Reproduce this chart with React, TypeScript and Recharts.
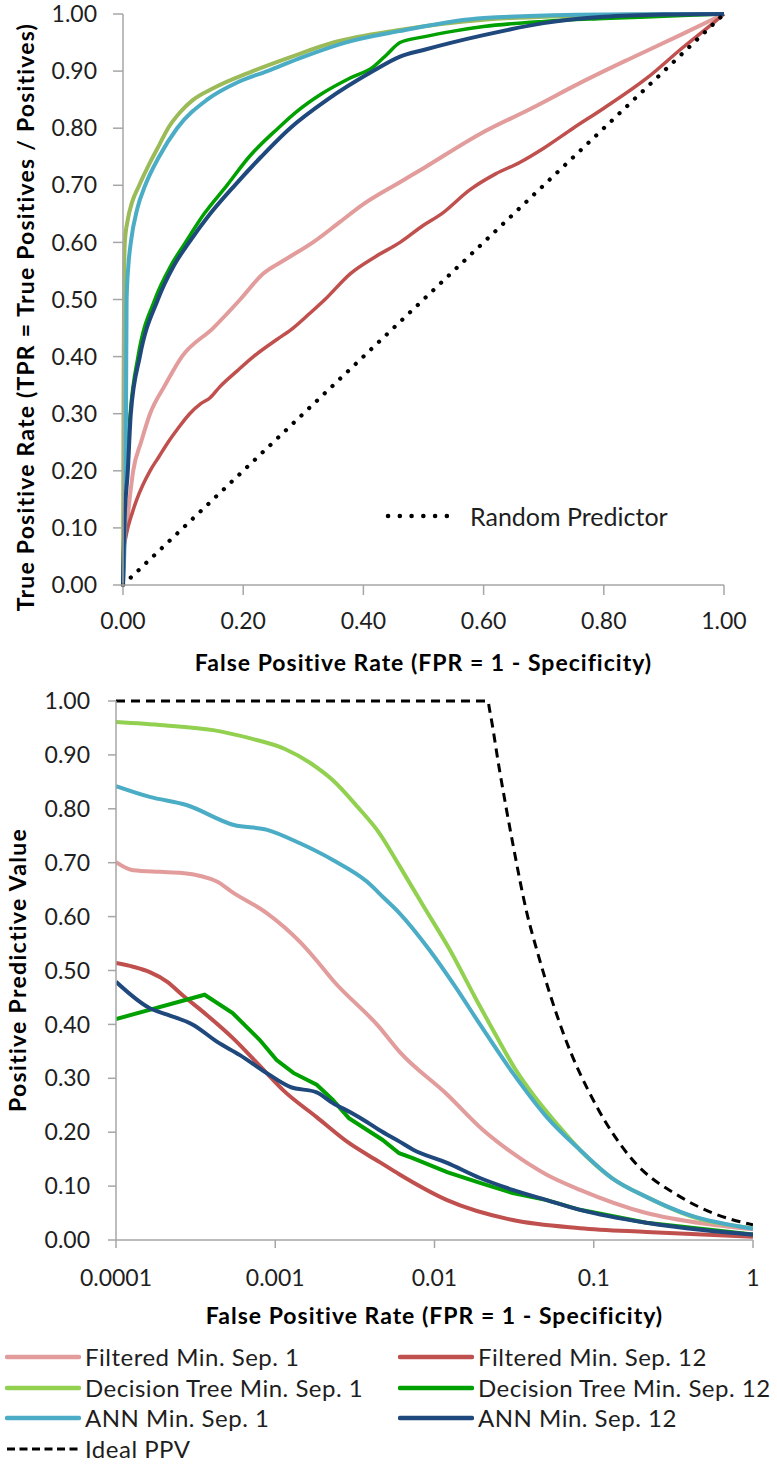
import React from "react";
import { LineChart, Line, XAxis, YAxis } from "recharts";

// ROC curves: [FPR, TPR]
const rocFiltered1 = [
  [0, 0], [0.002, 0.07], [0.006, 0.1], [0.011, 0.15], [0.017, 0.2], [0.03, 0.25], [0.045, 0.3],
  [0.07, 0.35], [0.098, 0.4], [0.15, 0.45], [0.195, 0.5], [0.233, 0.545], [0.27, 0.57], [0.316, 0.6],
  [0.36, 0.635], [0.4, 0.667], [0.46, 0.705], [0.5, 0.73], [0.594, 0.79], [0.68, 0.835], [0.76, 0.879],
  [0.84, 0.92], [0.927, 0.963], [1, 1],
];
const rocFiltered12 = [
  [0, 0], [0.001, 0.06], [0.004, 0.08], [0.008, 0.1], [0.015, 0.125], [0.023, 0.15], [0.033, 0.175],
  [0.045, 0.2], [0.06, 0.225], [0.075, 0.25], [0.092, 0.275], [0.111, 0.3], [0.13, 0.318], [0.145, 0.328],
  [0.161, 0.347], [0.19, 0.375], [0.217, 0.4], [0.256, 0.43], [0.283, 0.45], [0.31, 0.475], [0.336, 0.5],
  [0.378, 0.545], [0.42, 0.575], [0.461, 0.6], [0.5, 0.63], [0.53, 0.65], [0.577, 0.692], [0.62, 0.72],
  [0.66, 0.74], [0.7, 0.765], [0.749, 0.8], [0.8, 0.835], [0.872, 0.888], [0.93, 0.94], [0.982, 0.984], [1, 1],
];
const rocTree1 = [
  [0, 0], [0.001, 0.35], [0.002, 0.55], [0.003, 0.6], [0.008, 0.64], [0.015, 0.67], [0.027, 0.7],
  [0.045, 0.74], [0.06, 0.77], [0.075, 0.8], [0.095, 0.828], [0.117, 0.85], [0.15, 0.87], [0.216, 0.9],
  [0.28, 0.925], [0.35, 0.95], [0.46, 0.972], [0.6, 0.99], [0.8, 0.998], [1, 1],
];
const rocTree12 = [
  [0, 0], [0.002, 0.1], [0.006, 0.2], [0.012, 0.3], [0.025, 0.4], [0.053, 0.5], [0.08, 0.56],
  [0.104, 0.6], [0.135, 0.65], [0.173, 0.7], [0.21, 0.75], [0.258, 0.8], [0.29, 0.83], [0.33, 0.86],
  [0.378, 0.888], [0.416, 0.907], [0.44, 0.93], [0.461, 0.95], [0.5, 0.96], [0.55, 0.97], [0.6, 0.978],
  [0.7, 0.987], [0.8, 0.992], [0.9, 0.996], [1, 1],
];
const rocAnn1 = [
  [0, 0], [0.003, 0.1], [0.005, 0.3], [0.006, 0.5], [0.009, 0.56], [0.013, 0.6], [0.024, 0.66],
  [0.037, 0.7], [0.06, 0.75], [0.09, 0.8], [0.14, 0.85], [0.19, 0.88], [0.24, 0.9], [0.3, 0.925],
  [0.37, 0.95], [0.46, 0.97], [0.6, 0.993], [0.8, 0.999], [1, 1],
];
const rocAnn12 = [
  [0, 0], [0.002, 0.1], [0.008, 0.2], [0.013, 0.3], [0.028, 0.4], [0.058, 0.5], [0.085, 0.56],
  [0.11, 0.6], [0.145, 0.65], [0.186, 0.7], [0.23, 0.75], [0.278, 0.8], [0.34, 0.85], [0.416, 0.9],
  [0.46, 0.925], [0.5, 0.937], [0.6, 0.963], [0.7, 0.984], [0.8, 0.995], [0.9, 0.999], [1, 1],
];
const rocRandom = [[0, 0], [1, 1]];

// PPV curves: [FPR, PPV]
const ppvFiltered1 = [
  [0.0001, 0.701], [0.000128, 0.686], [0.000189, 0.683], [0.00026, 0.681], [0.00043, 0.665],
  [0.00054, 0.645], [0.00088, 0.607], [0.00143, 0.553], [0.0018, 0.52], [0.0023, 0.482], [0.0045, 0.395],
  [0.006, 0.35], [0.012, 0.27], [0.02, 0.205], [0.031, 0.161], [0.05, 0.122], [0.082, 0.093],
  [0.214, 0.05], [0.5, 0.03], [1, 0.02],
];
const ppvFiltered12 = [
  [0.0001, 0.514], [0.000128, 0.507], [0.000163, 0.497], [0.00021, 0.479], [0.00026, 0.455],
  [0.00037, 0.418], [0.00054, 0.375], [0.00088, 0.31], [0.00112, 0.278], [0.00182, 0.228],
  [0.0029, 0.18], [0.0045, 0.145], [0.006, 0.122], [0.012, 0.074], [0.031, 0.037], [0.082, 0.022],
  [0.214, 0.015], [1, 0.006],
];
const ppvTree1 = [
  [0.0001, 0.961], [0.0002, 0.955], [0.000407, 0.946], [0.00069, 0.931], [0.00115, 0.911],
  [0.00166, 0.885], [0.0023, 0.853], [0.0033, 0.803], [0.0045, 0.755], [0.006, 0.695], [0.0085, 0.62],
  [0.0125, 0.538], [0.018, 0.45], [0.0246, 0.377], [0.032, 0.318], [0.042, 0.268], [0.06, 0.212],
  [0.082, 0.167], [0.13, 0.115], [0.214, 0.08], [0.4, 0.045], [1, 0.022],
];
const ppvTree12 = [
  [0.0001, 0.41], [0.00036, 0.455], [0.00054, 0.421], [0.0008, 0.371], [0.00102, 0.334],
  [0.0013, 0.31], [0.00182, 0.288], [0.0023, 0.26], [0.0029, 0.226], [0.0047, 0.186], [0.006, 0.161],
  [0.0073, 0.152], [0.012, 0.126], [0.0193, 0.106], [0.031, 0.087], [0.0507, 0.074], [0.082, 0.056],
  [0.214, 0.032], [1, 0.01],
];
const ppvAnn1 = [
  [0.0001, 0.842], [0.000163, 0.822], [0.000277, 0.807], [0.00055, 0.77], [0.00089, 0.761],
  [0.00143, 0.736], [0.0023, 0.705], [0.00376, 0.665], [0.0048, 0.635], [0.006, 0.607], [0.0093, 0.538],
  [0.0135, 0.47], [0.0193, 0.4], [0.031, 0.31], [0.0507, 0.228], [0.082, 0.167], [0.13, 0.115],
  [0.214, 0.08], [0.4, 0.046], [1, 0.021],
];
const ppvAnn12 = [
  [0.0001, 0.479], [0.000163, 0.43], [0.00021, 0.418], [0.000306, 0.399], [0.00043, 0.368],
  [0.0006, 0.343], [0.00088, 0.31], [0.00124, 0.284], [0.00182, 0.274], [0.0023, 0.254],
  [0.003, 0.236], [0.00376, 0.219], [0.0045, 0.204], [0.006, 0.183], [0.0073, 0.168], [0.012, 0.143],
  [0.0193, 0.115], [0.031, 0.093], [0.0507, 0.074], [0.082, 0.056], [0.214, 0.032], [0.5, 0.018], [1, 0.01],
];
const ppvIdeal = [
  [0.0001, 1], [0.0216, 1], [0.0222, 0.983], [0.0256, 0.872], [0.031, 0.736], [0.038, 0.607],
  [0.0445, 0.532], [0.0643, 0.384], [0.1047, 0.247], [0.169, 0.154], [0.35, 0.08], [0.56, 0.05], [1, 0.028],
];

const rocTicks = [0, 0.2, 0.4, 0.6, 0.8, 1];
const logTicks = [0.0001, 0.001, 0.01, 0.1, 1];
const yTicks = [0, 0.1, 0.2, 0.3, 0.4, 0.5, 0.6, 0.7, 0.8, 0.9, 1];

const toPts = (arr: number[][]) => arr.map(([x, y]) => ({ x, y }));

const FONT = "Lato, 'Open Sans', sans-serif";
const AXIS = "#a6a6a6";
const TEXT = "#1e1e1e";
const tickStyle = { fill: TEXT, fontSize: 23, fontFamily: FONT };

const C = {
  filtered1: "#e29c9c",
  filtered12: "#c0504d",
  tree1Top: "#9bbb59",
  tree1: "#92d050",
  tree12: "#00a000",
  ann1: "#4bacc6",
  ann12: "#1f497d",
};

const legendItems = [
  { label: "Filtered Min. Sep. 1", color: C.filtered1, col: 0, row: 0 },
  { label: "Filtered Min. Sep. 12", color: C.filtered12, col: 1, row: 0 },
  { label: "Decision Tree Min. Sep. 1", color: C.tree1, col: 0, row: 1 },
  { label: "Decision Tree Min. Sep. 12", color: C.tree12, col: 1, row: 1 },
  { label: "ANN Min. Sep. 1", color: C.ann1, col: 0, row: 2 },
  { label: "ANN Min. Sep. 12", color: C.ann12, col: 1, row: 2 },
  { label: "Ideal PPV", color: "#000", col: 0, row: 3, dashed: true },
];

function title(text: string, left: number, width: number, cy: number, spacing: number, rotate = false) {
  return (
    <div
      style={{
        position: "absolute",
        left: rotate ? left - width / 2 : left,
        top: cy - 14,
        width,
        height: 28,
        lineHeight: "28px",
        textAlign: "center",
        fontFamily: FONT,
        fontWeight: 700,
        fontSize: 23,
        letterSpacing: spacing,
        color: "#000",
        whiteSpace: "nowrap",
        transform: rotate ? "rotate(-90deg)" : undefined,
        transformOrigin: "center",
      }}
    >
      {text}
    </div>
  );
}

export default function App() {
  return (
    <div style={{ position: "absolute", left: 0, top: 0, width: 777, height: 1465, background: "#fff", overflow: "hidden" }}>
      <div style={{ position: "absolute", left: 0, top: 0 }}>
        <LineChart width={777} height={680} margin={{ top: 14, right: 53, left: 0, bottom: 0 }}>
          <XAxis
            type="number"
            dataKey="x"
            domain={[0, 1]}
            ticks={rocTicks}
            tickFormatter={(v: number) => v.toFixed(2)}
            height={95}
            stroke={AXIS}
            strokeWidth={1.5}
            tickSize={10}
            tickMargin={18}
            tick={tickStyle}
            allowDuplicatedCategory={false}
          />
          <YAxis
            type="number"
            dataKey="y"
            domain={[0, 1]}
            ticks={yTicks}
            tickFormatter={(v: number) => v.toFixed(2)}
            width={123}
            stroke={AXIS}
            strokeWidth={1.5}
            tickSize={10}
            tickMargin={16}
            tick={tickStyle}
          />
          <Line data={toPts(rocFiltered1)} type="monotone" dataKey="y" stroke={C.filtered1} strokeWidth={4} dot={false} isAnimationActive={false} />
          <Line data={toPts(rocFiltered12)} type="monotone" dataKey="y" stroke={C.filtered12} strokeWidth={3.5} dot={false} isAnimationActive={false} />
          <Line data={toPts(rocTree1)} type="monotone" dataKey="y" stroke={C.tree1Top} strokeWidth={4} dot={false} isAnimationActive={false} />
          <Line data={toPts(rocTree12)} type="monotone" dataKey="y" stroke={C.tree12} strokeWidth={3.5} dot={false} isAnimationActive={false} />
          <Line data={toPts(rocAnn1)} type="monotone" dataKey="y" stroke={C.ann1} strokeWidth={4} dot={false} isAnimationActive={false} />
          <Line data={toPts(rocAnn12)} type="monotone" dataKey="y" stroke={C.ann12} strokeWidth={4} dot={false} isAnimationActive={false} />
          <Line
            data={toPts(rocRandom)}
            dataKey="y"
            stroke="#000"
            strokeWidth={4.2}
            strokeDasharray="0.1 10.6"
            strokeLinecap="round"
            dot={false}
            isAnimationActive={false}
          />
        </LineChart>
      </div>

      {title("False Positive Rate (FPR = 1 - Specificity)", 123, 601, 662, 1)}
      {title("True Positive Rate (TPR = True Positives / Positives)", 25, 640, 317, 1.2, true)}

      <svg style={{ position: "absolute", left: 380, top: 506 }} width={85} height={20}>
        <line x1={8} y1={10} x2={78} y2={10} stroke="#000" strokeWidth={4.5} strokeDasharray="0.1 11.66" strokeLinecap="round" />
      </svg>
      <div style={{ position: "absolute", left: 470, top: 501, lineHeight: "30px", fontFamily: FONT, fontSize: 25, color: TEXT, whiteSpace: "nowrap" }}>
        Random Predictor
      </div>

      <div style={{ position: "absolute", left: 0, top: 680 }}>
        <LineChart width={777} height={650} margin={{ top: 21, right: 24, left: 0, bottom: 0 }}>
          <XAxis
            type="number"
            dataKey="x"
            scale="log"
            domain={[0.0001, 1]}
            ticks={logTicks}
            tickFormatter={(v: number) => String(v)}
            height={90}
            stroke={AXIS}
            strokeWidth={1.5}
            tickSize={8}
            tickMargin={22}
            tick={tickStyle}
            allowDataOverflow
          />
          <YAxis
            type="number"
            dataKey="y"
            domain={[0, 1]}
            ticks={yTicks}
            tickFormatter={(v: number) => v.toFixed(2)}
            width={116}
            stroke={AXIS}
            strokeWidth={1.5}
            tickSize={8}
            tickMargin={18}
            tick={tickStyle}
          />
          <Line data={toPts(ppvFiltered1)} type="monotone" dataKey="y" stroke={C.filtered1} strokeWidth={4} dot={false} isAnimationActive={false} />
          <Line data={toPts(ppvFiltered12)} type="monotone" dataKey="y" stroke={C.filtered12} strokeWidth={4} dot={false} isAnimationActive={false} />
          <Line data={toPts(ppvTree1)} type="monotone" dataKey="y" stroke={C.tree1} strokeWidth={4} dot={false} isAnimationActive={false} />
          <Line data={toPts(ppvTree12)} dataKey="y" stroke={C.tree12} strokeWidth={4} dot={false} isAnimationActive={false} />
          <Line data={toPts(ppvAnn1)} type="monotone" dataKey="y" stroke={C.ann1} strokeWidth={4} dot={false} isAnimationActive={false} />
          <Line data={toPts(ppvAnn12)} type="monotone" dataKey="y" stroke={C.ann12} strokeWidth={4} dot={false} isAnimationActive={false} />
          <Line
            data={toPts(ppvIdeal)}
            type="monotone"
            dataKey="y"
            stroke="#000"
            strokeWidth={3}
            strokeDasharray="9 6"
            dot={false}
            isAnimationActive={false}
          />
        </LineChart>
      </div>

      {title("False Positive Rate (FPR = 1 - Specificity)", 116, 637, 1315, 1)}
      {title("Positive Predictive Value", 17, 400, 970, 1.3, true)}

      {legendItems.map((it) => {
        const lx = it.col === 0 ? 5 : 398;
        const cy = 1357 + it.row * 30.7;
        return (
          <React.Fragment key={it.label}>
            <svg style={{ position: "absolute", left: lx, top: cy - 5 }} width={76} height={10}>
              <line
                x1={2}
                y1={5}
                x2={74}
                y2={5}
                stroke={it.color}
                strokeWidth={it.dashed ? 3 : 4.5}
                strokeLinecap={it.dashed ? "butt" : "round"}
                strokeDasharray={it.dashed ? "8 4.5" : undefined}
              />
            </svg>
            <div
              style={{
                position: "absolute",
                left: lx + 80,
                top: cy - 14,
                lineHeight: "28px",
                fontFamily: FONT,
                fontSize: 24,
                letterSpacing: 0.5,
                color: TEXT,
                whiteSpace: "nowrap",
              }}
            >
              {it.label}
            </div>
          </React.Fragment>
        );
      })}
    </div>
  );
}
